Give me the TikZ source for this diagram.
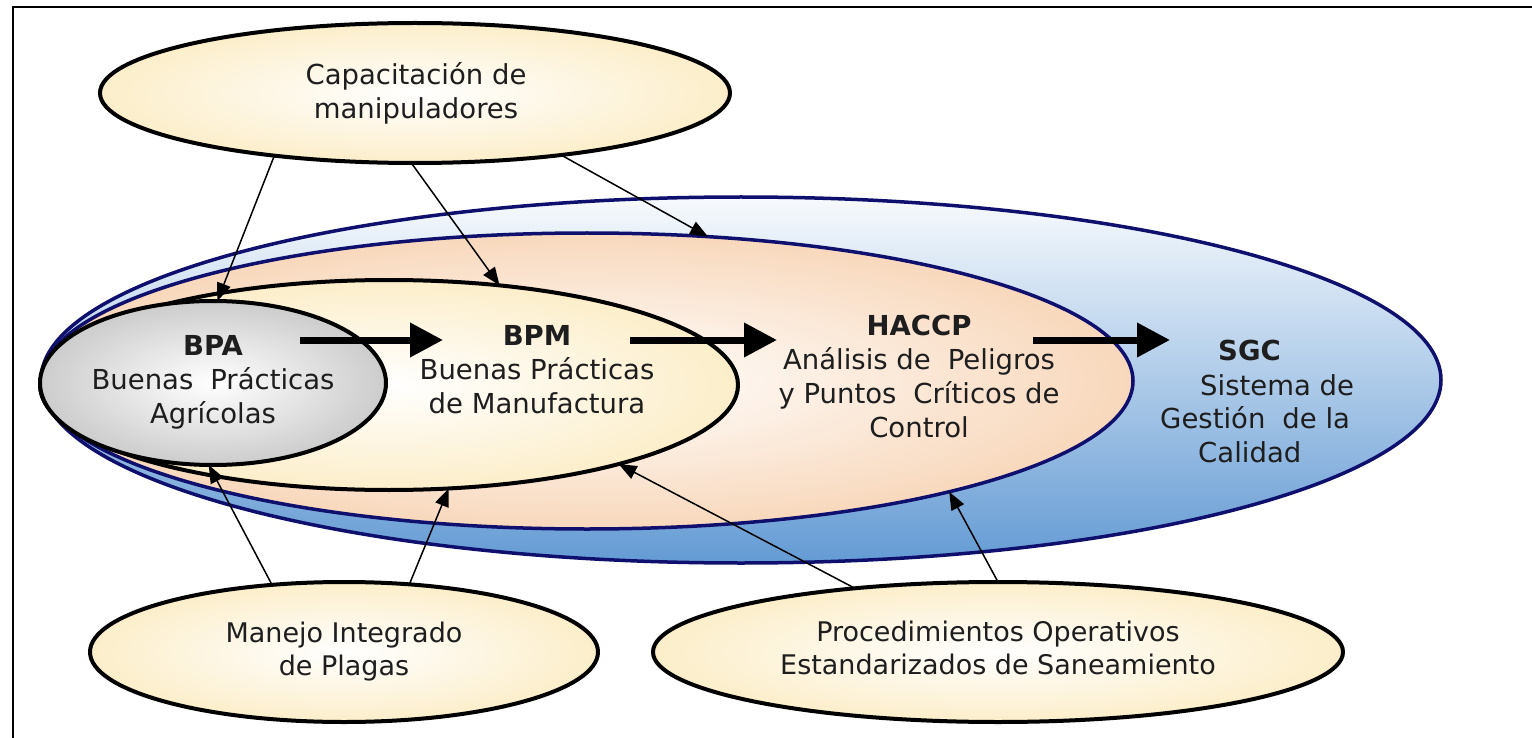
\documentclass[tikz,border=0pt]{standalone}
\usepackage{fontspec}
\setmainfont{DejaVu Sans}
\usetikzlibrary{shapes.geometric,arrows.meta}
\definecolor{navy}{RGB}{15,15,110}
\definecolor{cream}{RGB}{252,238,202}
\definecolor{peach}{RGB}{248,216,188}
\definecolor{skyb}{RGB}{100,155,212}
\definecolor{grayb}{RGB}{204,204,204}
\definecolor{txt}{RGB}{30,30,30}
\begin{document}
\begin{tikzpicture}[x=1pt,y=-1pt,
  blob/.style={ellipse, inner sep=0pt, outer sep=0pt},
  blackblob/.style={blob, draw=black, line width=4pt},
  blueblob/.style={blob, draw=navy, line width=3.5pt},
  feed/.style={line width=1.5pt, -{Triangle[length=18pt,width=14pt]}},
  flow/.style={line width=7pt, -{Triangle[length=33pt,width=33pt]}},
  lbl/.style={align=center, text=txt, font=\fontsize{27.5}{34}\selectfont, inner sep=0pt},
  lbls/.style={align=center, text=txt, font=\fontsize{27}{33}\selectfont, inner sep=0pt},
  sgcl/.style={anchor=west, text=txt, font=\fontsize{27.5}{34}\selectfont, inner sep=0pt},
]
\useasboundingbox (0,0) rectangle (1532,738);
\fill[white] (0,0) rectangle (1532,738);
% frame
\draw[line width=2pt] (13,738) -- (13,7) -- (1532,7);

% nested ellipses
\node[blueblob, minimum width=1400pt, minimum height=366pt, top color=white!95!skyb, bottom color=skyb] (sgc) at (741,380) {};
\node[blueblob, minimum width=1092pt, minimum height=296pt, inner color=white, outer color=peach] (haccp) at (587,381) {};
\node[blackblob, minimum width=698pt, minimum height=210pt, inner color=white, outer color=cream] (bpm) at (389,385) {};
\node[blackblob, minimum width=346pt, minimum height=164pt, inner color=white, outer color=grayb] (bpa) at (213,383) {};

% outer ellipses
\node[blackblob, minimum width=630pt, minimum height=140pt, inner color=white, outer color=cream] (cap) at (415,93) {};
\node[blackblob, minimum width=508pt, minimum height=140pt, inner color=white, outer color=cream] (mip) at (344,652) {};
\node[blackblob, minimum width=690pt, minimum height=140pt, inner color=white, outer color=cream] (poe) at (998,652) {};

% thin arrows
\draw[feed] (cap.204.4) -- (bpa.87.2);
\draw[feed] (cap.267.5) -- (bpm.42.4);
\draw[feed] (cap.337) -- (haccp.50.1);
\draw[feed] (mip.137.7) -- (bpa.267.3);
\draw[feed] (mip.46.7) -- (bpm.300.6);
\draw[feed] (poe.156.4) -- (bpm.341.1);
\draw[feed] (poe.90.8) -- (haccp.343.3);

% thick arrows
\coordinate (a1s) at (300,340); \coordinate (a1e) at (443,340);
\coordinate (a2s) at (630,340); \coordinate (a2e) at (777,340);
\coordinate (a3s) at (1033,340); \coordinate (a3e) at (1170,340);
\draw[flow] (a1s) -- (a1e);
\draw[flow] (a2s) -- (a2e);
\draw[flow] (a3s) -- (a3e);

% labels
\node[lbl] (tcap) at (416,93) {Capacitación de\\manipuladores};
\node[lbls] (tmip) at (344,652) {Manejo Integrado\\de Plagas};
\node[lbls] (tpoe) at (998,648) {Procedimientos Operativos\\Estandarizados de Saneamiento};
\node[lbl] (tbpa) at (213,382) {\textbf{BPA}\\Buenas\hspace{0.3em} Prácticas\\Agrícolas};
\node[lbl] (tbpm) at (537,370) {\textbf{BPM}\\Buenas Prácticas\\de Manufactura};
\node[lbl] (thac) at (919,376) {\textbf{HACCP}\\Análisis de\hspace{0.3em} Peligros\\y Puntos\hspace{0.3em} Críticos de\\Control};
\node[sgcl,font=\fontsize{27.5}{34}\selectfont\bfseries] (s1) at (1218,350) {SGC};
\node[sgcl] (s2) at (1200,385) {Sistema de};
\node[sgcl] (s3) at (1160,418) {Gestión\hspace{0.3em} de la};
\node[sgcl] (s4) at (1198,452) {Calidad};
\end{tikzpicture}
\end{document}
